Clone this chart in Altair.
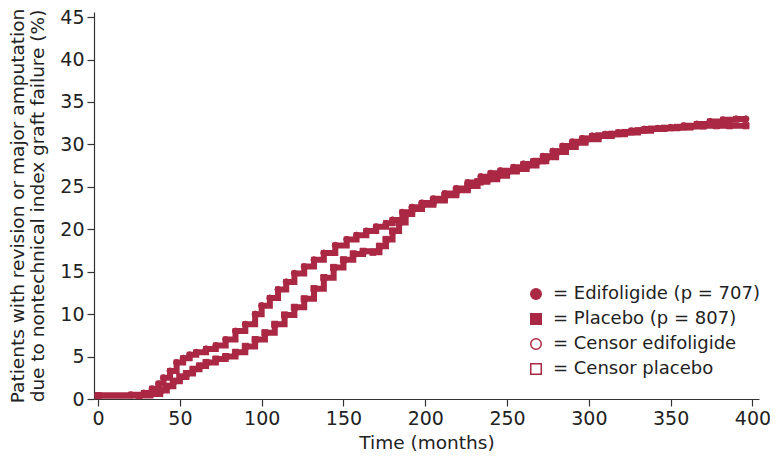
import altair as alt
import pandas as pd

C = "#ab2844"

ed_t = [0, 20, 28, 33, 37, 40, 44, 48, 52, 56, 60, 66, 72, 78, 84, 90, 96, 100, 105, 110, 115, 120,
        126, 132, 138, 145, 152, 158, 164, 170, 176, 180, 186, 192, 198, 205, 212, 219, 226, 234,
        240, 246, 254, 260, 266, 272, 278, 284, 290, 296, 302, 310, 318, 326, 334, 342, 350, 358,
        366, 374, 382, 390, 396]
ed_y = [0.4, 0.5, 0.7, 1.2, 1.8, 2.5, 3.3, 4.3, 4.8, 5.2, 5.5, 5.9, 6.3, 7.0, 8.0, 8.8, 10.0, 11.0,
        11.9, 12.9, 13.8, 14.8, 15.6, 16.4, 17.2, 18.1, 18.8, 19.3, 19.8, 20.3, 20.7, 21.1, 22.0,
        22.6, 23.1, 23.6, 24.2, 24.8, 25.5, 26.2, 26.6, 26.9, 27.3, 27.7, 28.0, 28.6, 29.2, 29.8,
        30.3, 30.7, 31.0, 31.2, 31.4, 31.6, 31.8, 31.9, 32.0, 32.2, 32.4, 32.7, 32.9, 33.0, 33.0]

pl_t = [0, 25, 32, 38, 42, 46, 50, 54, 58, 62, 66, 72, 78, 84, 90, 96, 102, 108, 114, 120, 126,
        132, 138, 144, 150, 156, 162, 168, 172, 176, 180, 184, 188, 192, 198, 205, 212, 219, 226,
        232, 238, 244, 250, 256, 262, 268, 274, 280, 286, 292, 298, 306, 314, 322, 330, 338, 346,
        354, 362, 370, 378, 386, 396]
pl_y = [0.4, 0.4, 0.6, 1.0, 1.5, 2.1, 2.6, 3.0, 3.5, 3.9, 4.3, 4.7, 5.0, 5.5, 6.2, 7.0, 7.8, 8.8,
        9.9, 10.8, 11.8, 13.0, 14.3, 15.5, 16.4, 17.1, 17.4, 17.3, 18.0, 18.8, 19.8, 20.8, 21.8,
        22.4, 22.9, 23.4, 24.0, 24.6, 25.1, 25.6, 25.9, 26.3, 26.8, 27.1, 27.5, 28.0, 28.5, 29.1,
        29.7, 30.2, 30.6, 31.0, 31.2, 31.4, 31.6, 31.8, 31.9, 32.0, 32.1, 32.2, 32.2, 32.2, 32.2]

labels = ["Edifoligide (p = 707)", "Placebo (p = 807)", "Censor edifoligide", "Censor placebo"]
shapes = ["circle", "square", "circle", "square"]
fills = [C, C, "white", "white"]
strokes = [C, C, C, C]

df = pd.concat([
    pd.DataFrame({"t": ed_t, "y": ed_y, "series": labels[0]}),
    pd.DataFrame({"t": pl_t, "y": pl_y, "series": labels[1]}),
])

FONT = "DejaVu Sans"

x = alt.X("t:Q", scale=alt.Scale(domain=[-2.5, 404], nice=False, zero=False),
          axis=alt.Axis(title="Time (months)", values=[0, 50, 100, 150, 200, 250, 300, 350, 400]))
y = alt.Y("y:Q", scale=alt.Scale(domain=[0, 45.6], nice=False),
          axis=alt.Axis(title=["Patients with revision or major amputation",
                               "due to nontechnical index graft failure (%)"],
                        values=[0, 5, 10, 15, 20, 25, 30, 35, 40, 45], titleLineHeight=20))

lines = alt.Chart(df).mark_line(interpolate="step-after", color=C, strokeWidth=6).encode(
    x=x, y=y, detail="series:N")

legend = alt.Legend(title=None, orient="none", legendX=433, legendY=273,
                    labelExpr="'= ' + datum.label", labelLimit=0,
                    symbolSize=110, labelFontSize=18, labelFont=FONT, labelColor="#222",
                    rowPadding=7, labelOffset=8, symbolStrokeWidth=1.5)

points = alt.Chart(df).mark_point(filled=True, size=38, strokeWidth=1, opacity=1).encode(
    x=x, y=y,
    shape=alt.Shape("series:N", scale=alt.Scale(domain=labels, range=shapes), legend=legend),
    fill=alt.Fill("series:N", scale=alt.Scale(domain=labels, range=fills), legend=legend),
    stroke=alt.Stroke("series:N", scale=alt.Scale(domain=labels, range=strokes), legend=legend),
)

chart = (lines + points).properties(
    width=762, height=444, padding=0,
    autosize=alt.AutoSizeParams(type="fit", contains="padding"),
).configure_view(
    stroke=None
).configure_axis(
    grid=False, labelFont=FONT, titleFont=FONT, labelFontSize=19, titleFontSize=18.5,
    titleFontWeight="normal", labelColor="#222", titleColor="#222", domainColor="#333",
    tickColor="#333", tickSize=7, domainWidth=1.2, tickWidth=1.2
).configure_axisY(titlePadding=12, labelPadding=3).configure_axisX(titlePadding=5, labelPadding=3)

chart.save("out.html", embed_options={"renderer": "svg", "actions": False})
